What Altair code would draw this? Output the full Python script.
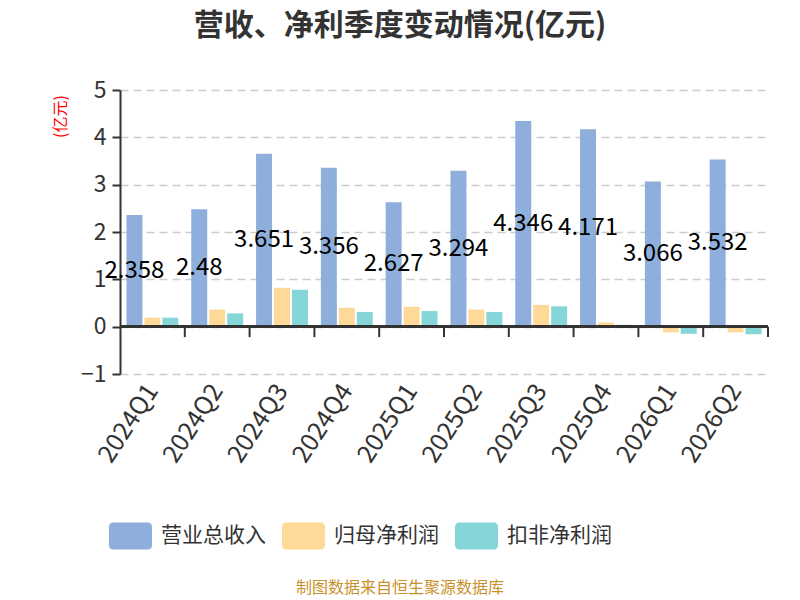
import altair as alt
import pandas as pd

quarters = ['2024Q1', '2024Q2', '2024Q3', '2024Q4', '2025Q1',
            '2025Q2', '2025Q3', '2025Q4', '2026Q1', '2026Q2']
series_names = ['营业总收入', '归母净利润', '扣非净利润']
series_colors = ['#8eaedc', '#fed998', '#86d5d8']

revenue = [2.358, 2.48, 3.651, 3.356, 2.627, 3.294, 4.346, 4.171, 3.066, 3.532]
net_profit = [0.19, 0.36, 0.82, 0.40, 0.42, 0.36, 0.46, 0.09, -0.12, -0.12]
deducted_profit = [0.19, 0.28, 0.78, 0.31, 0.33, 0.31, 0.43, 0.04, -0.15, -0.16]

y_ticks = [-1, 0, 1, 2, 3, 4, 5]
title_text = '营收、净利季度变动情况(亿元)'
footer_text = '制图数据来自恒生聚源数据库'
font = 'Noto Sans CJK SC'

rows = []
for name, values in zip(series_names, [revenue, net_profit, deducted_profit]):
    for q, v in zip(quarters, values):
        rows.append({'quarter': q, 'series': name, 'value': v})
df = pd.DataFrame(rows)

# wide rounded rectangle for the legend
legend_shape = ('M-0.81,-0.63 L0.81,-0.63 A0.19,0.19 0 0 1 1,-0.44 L1,0.44 '
                'A0.19,0.19 0 0 1 0.81,0.63 L-0.81,0.63 A0.19,0.19 0 0 1 -1,0.44 '
                'L-1,-0.44 A0.19,0.19 0 0 1 -0.81,-0.63 Z')

x_enc = alt.X('quarter:N', sort=quarters, title=None,
              scale=alt.Scale(paddingInner=0, paddingOuter=0),
              axis=alt.Axis(labelAngle=-57, labelFontSize=25, labelColor='#333',
                            labelPadding=12, domain=False, ticks=False, grid=False,
                            labelFont=font))
y_enc = alt.Y('value:Q', title='(亿元)',
              scale=alt.Scale(domain=[-1, 5], nice=False),
              axis=alt.Axis(values=y_ticks, labelFontSize=23, labelColor='#333',
                            labelPadding=6, tickSize=8, tickWidth=2, tickColor='#333',
                            domainColor='#333', domainWidth=2,
                            grid=True, gridColor='#cccccc', gridDash=[8, 5], gridWidth=1.5,
                            titleColor='red', titleFontSize=16, titleFontWeight='normal',
                            titleAngle=-90, titleX=-60, titleY=26, titleAlign='center',
                            titleBaseline='middle', titleFont=font, labelFont=font))
offset_enc = alt.XOffset('series:N', sort=series_names,
                         scale=alt.Scale(domain=series_names, paddingInner=0.11, paddingOuter=0.36))

bars = alt.Chart(df).mark_bar().encode(
    x=x_enc,
    y=y_enc,
    xOffset=offset_enc,
    color=alt.Color('series:N', sort=series_names, title=None,
                    scale=alt.Scale(domain=series_names, range=series_colors),
                    legend=alt.Legend(orient='none', legendX=-11, legendY=424,
                                      direction='horizontal', symbolType=legend_shape,
                                      symbolSize=1849, symbolStrokeWidth=0, symbolOpacity=1,
                                      labelFontSize=21, labelColor='#333', labelFont=font,
                                      labelOffset=9, columnPadding=16, padding=0))
)

zero_line = alt.Chart(df).mark_rule(color='#333', strokeWidth=2).encode(
    y=alt.datum(0)
)

ticks = alt.Chart(pd.DataFrame({'quarter': quarters})).mark_rule(color='#333', strokeWidth=2).encode(
    x=alt.X('quarter:N', sort=quarters, bandPosition=1),
    y=alt.datum(0),
    y2=alt.datum(-0.22)
)

labels = alt.Chart(df).transform_filter(
    alt.datum.series == series_names[0]
).transform_calculate(
    mid='datum.value / 2'
).mark_text(color='black', fontSize=24, font=font, baseline='middle').encode(
    x=alt.X('quarter:N', sort=quarters),
    xOffset=offset_enc,
    y=alt.Y('mid:Q'),
    text=alt.Text('value:Q')
)

footer = alt.Chart(pd.DataFrame({'t': [footer_text]})).mark_text(
    color='#c8912c', fontSize=16, font=font, baseline='middle'
).encode(
    text='t:N',
    x=alt.value(280),
    y=alt.value(498)
)

chart = alt.layer(bars, zero_line, ticks, labels, footer).properties(
    width=648,
    height=284,
    padding={'left': 112, 'top': 82, 'right': 24, 'bottom': 224},
    autosize=alt.AutoSizeParams(type='none'),
    background='white',
    title=alt.TitleParams(title_text, fontSize=30, fontWeight='bold', color='#333',
                          font=font, anchor='middle', dx=-44, offset=38)
).configure_view(stroke=None)

chart.save('out.html', embed_options={'renderer': 'svg', 'actions': False})
